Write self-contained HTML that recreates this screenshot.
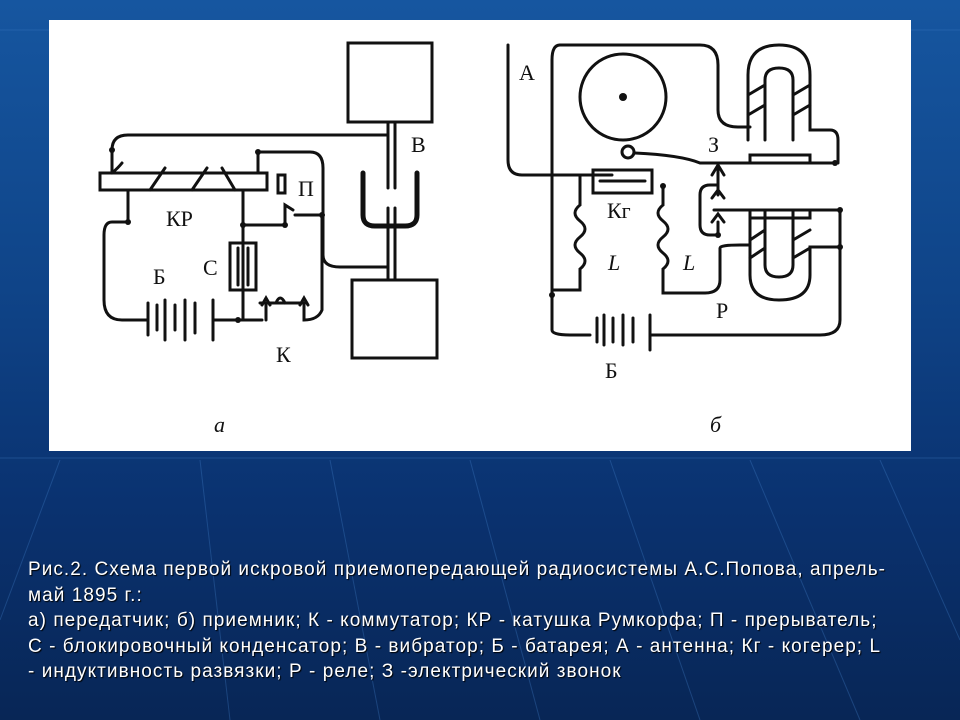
<!DOCTYPE html>
<html><head><meta charset="utf-8"><style>
html,body{margin:0;padding:0}
body{width:960px;height:720px;overflow:hidden;position:relative;
background:linear-gradient(180deg,#1656a0 0%,#0f4488 40%,#0a3270 70%,#082656 100%);
font-family:"Liberation Sans","DejaVu Sans",sans-serif}
#grid{position:absolute;left:0;top:0}
#panel{position:absolute;left:49px;top:20px;width:862px;height:431px;background:#fff}
#cap{position:absolute;left:28px;top:557px;width:930px;color:#fff;font-size:19px;letter-spacing:1.05px;line-height:25.5px;white-space:nowrap;text-shadow:1px 1px 1px #000}
</style></head><body>
<svg id="grid" width="960" height="720">
<g stroke="#3f7cc4" stroke-width="1" opacity="0.35" fill="none">
<line x1="0" y1="458" x2="960" y2="458"/>
<line x1="0" y1="30" x2="960" y2="30"/>
<path d="M60 460 L0 620"/><path d="M200 460 L230 720"/><path d="M330 460 L380 720"/>
<path d="M470 460 L540 720"/><path d="M610 460 L700 720"/><path d="M750 460 L860 720"/>
<path d="M880 460 L960 640"/>
</g></svg>
<div id="panel"></div>
<svg style="position:absolute;left:0;top:0" width="960" height="460">
<g stroke="#111" stroke-width="3" fill="none" stroke-linecap="round">
<rect x="348" y="43" width="84" height="79"/>
<rect x="352" y="280" width="85" height="78"/>
<line x1="388" y1="122" x2="388" y2="188"/><line x1="395" y1="122" x2="395" y2="188"/>
<line x1="388" y1="208" x2="388" y2="280"/><line x1="395" y1="208" x2="395" y2="280"/>
<path d="M363 173 V215 Q363 226 375 226 H405 Q417 226 417 215 V173" stroke-width="5"/>
<rect x="100" y="173" width="167" height="17"/>
<path d="M112 173 Q118 168 122 163 M150 190 L165 168 M192 190 L207 168 M235 190 L222 168" stroke-width="3"/>
<path d="M112 173 V150 Q112 135 128 135 H388"/>
<path d="M258 173 V152 H310 Q323 152 323 168 V255 Q323 267 340 267 H388"/>
<rect x="278" y="175" width="7" height="18"/>
<path d="M128 190 V222 H112 Q104 222 104 235 V300 Q104 320 122 320 H148"/>
<path d="M148 303 V335 M157 305 V330 M165 300 V340 M175 305 V330 M185 300 V340 M195 303 V333 M213 300 V340"/>
<path d="M213 320 H262"/>
<path d="M243 190 V225 H285 V205 L293 210 M243 225 V243"/>
<rect x="230" y="243" width="26" height="47"/>
<path d="M238 248 V285 M243 245 V290 M248 248 V285"/>
<path d="M243 290 V320"/>
<path d="M262 305 L266 298 L270 305 M266 305 V320 M300 305 L304 298 L308 305 M304 305 V320 Q318 320 322 310 V215 H295"/>
<path d="M260 303 H305 M276 303 Q280 293 285 303"/>
<path d="M508 45 V160 Q508 175 522 175 H612"/>
<path d="M560 45 Q552 45 552 60 V330 Q552 335 570 335 H590"/>
<path d="M560 45 H700 Q718 45 718 65 V110 Q718 127 738 127 H750"/>
<circle cx="623" cy="97" r="43"/>
<circle cx="628" cy="152" r="6"/>
<path d="M634 153 Q680 155 700 163 H835"/>
<rect x="593" y="170" width="59" height="23"/>
<path d="M600 181 H645"/>
<path d="M580 175 V205 q-10 8 0 16 q10 8 0 16 q-10 8 0 16 q10 8 0 16 V290 H552"/>
<path d="M663 186 V205 q-10 8 0 16 q10 8 0 16 q-10 8 0 16 q10 8 0 16 V293 H705 Q720 293 720 280 V248 Q720 245 740 245 H750"/>
<path d="M748 140 V75 Q748 45 779 45 Q810 45 810 75 V130 H830 Q838 130 838 140 V163"/>
<path d="M765 140 V80 Q765 68 779 68 Q793 68 793 80 V140"/>
<path d="M748 95 L765 85 M748 115 L765 105 M793 95 L810 85 M793 115 L810 105"/>
<rect x="750" y="155" width="60" height="8"/>
<path d="M750 210 V275 Q750 300 779 300 Q810 300 810 275 V247 H840"/>
<path d="M765 210 V265 Q765 277 779 277 Q793 277 793 265 V210"/>
<path d="M750 240 L765 230 M750 258 L765 248 M793 240 L810 230 M793 258 L810 248"/>
<rect x="750" y="210" width="60" height="8"/>
<path d="M714 210 H840 V320 Q840 335 820 335 H660"/>
<path d="M718 163 V195 M712 175 L718 165 L724 175 M712 198 L718 190 L724 198 M712 222 L718 214 L724 222 M718 222 V235 H710 Q700 235 700 225 V195 Q700 185 710 185 H718"/>
<path d="M597 318 V342 M604 315 V345 M613 318 V342 M623 315 V345 M633 318 V342 M650 315 V350"/>
<path d="M650 335 H660"/>
</g>
<g fill="#111">
<circle cx="112" cy="150" r="3"/><circle cx="258" cy="152" r="3"/><circle cx="128" cy="222" r="3"/>
<circle cx="243" cy="225" r="3"/><circle cx="285" cy="225" r="3"/><circle cx="322" cy="215" r="3"/>
<circle cx="238" cy="320" r="3"/>
<circle cx="552" cy="295" r="3"/><circle cx="663" cy="186" r="3"/><circle cx="835" cy="163" r="3"/>
<circle cx="840" cy="210" r="3"/><circle cx="840" cy="247" r="3"/><circle cx="718" cy="235" r="3"/>
<circle cx="623" cy="97" r="4"/>
</g>
<g font-family="Liberation Serif,serif" font-size="22" fill="#111">
<text x="411" y="152">В</text><text x="298" y="196">П</text><text x="166" y="226">КР</text>
<text x="203" y="275">С</text><text x="153" y="284">Б</text><text x="276" y="362">К</text>
<text x="214" y="432" font-style="italic">а</text>
<text x="519" y="80">А</text><text x="708" y="152">З</text><text x="607" y="218">Кг</text>
<text x="608" y="270" font-style="italic">L</text><text x="683" y="270" font-style="italic">L</text>
<text x="716" y="318">Р</text><text x="605" y="378">Б</text>
<text x="710" y="432" font-style="italic">б</text>
</g>
</svg>
<div id="cap">Рис.2. Схема первой искровой приемопередающей радиосистемы А.С.Попова, апрель-<br>май 1895 г.:<br>а) передатчик; б) приемник; К - коммутатор; КР - катушка Румкорфа; П - прерыватель;<br>С - блокировочный конденсатор; В - вибратор; Б - батарея; А - антенна; Кг - когерер; L<br>- индуктивность развязки; Р - реле; З -электрический звонок</div>
</body></html>
